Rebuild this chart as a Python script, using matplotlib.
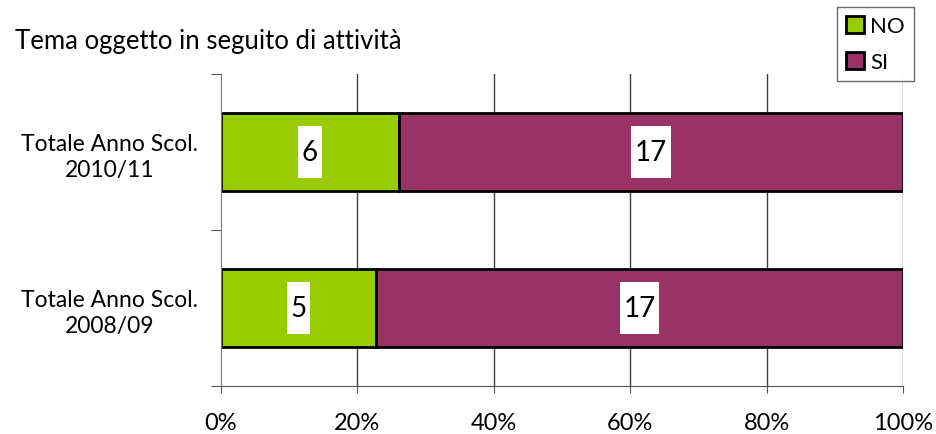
import matplotlib
matplotlib.use("Agg")
import matplotlib.pyplot as plt
import numpy as np
from matplotlib.path import Path

plt.rcParams['font.family'] = ['Lato', 'DejaVu Sans']

categories = ["Totale Anno Scol.\n2008/09", "Totale Anno Scol.\n2010/11"]
no_vals = [5, 6]
si_vals = [17, 17]
xtick_labels = ["0%", "20%", "40%", "60%", "80%", "100%"]
title = "Tema oggetto in seguito di attività"

c_no = "#99CC00"
c_si = "#993366"


def tall_box(x0, y0, width, height, mutation_size):
    px, py = 3.5, 13
    x0, y0 = x0 - px, y0 - py
    x1, y1 = x0 + width + 2 * px, y0 + height + 2 * py
    return Path([(x0, y0), (x1, y0), (x1, y1), (x0, y1), (x0, y0)],
                [Path.MOVETO, Path.LINETO, Path.LINETO, Path.LINETO, Path.CLOSEPOLY])


fig = plt.figure(figsize=(9.37, 4.35), dpi=100)
ax = fig.add_axes([221/937, 1 - 387/435, (903-221)/937, (387-75)/435])

no = np.array(no_vals, float)
si = np.array(si_vals, float)
tot = no + si
pno = no / tot * 100
psi = si / tot * 100
y = np.arange(len(categories))

for xv in [20, 40, 60, 80, 100]:
    ax.axvline(xv, color="#404040", lw=1, zorder=0)

ax.barh(y, pno, height=0.5, color=c_no, edgecolor="black", lw=2, label="NO", zorder=2)
ax.barh(y, psi, left=pno, height=0.5, color=c_si, edgecolor="black", lw=2, label="SI", zorder=2)

for i in range(len(categories)):
    for xc, v in [(pno[i] / 2, no_vals[i]), (pno[i] + psi[i] / 2, si_vals[i])]:
        t = ax.text(xc, y[i], str(v), ha="center", va="center", fontsize=20, zorder=3)
        t.set_bbox(dict(facecolor="white", edgecolor="none", boxstyle=tall_box))

ax.set_xlim(0, 100)
ax.set_ylim(-0.5, 1.5)
ax.set_xticks([0, 20, 40, 60, 80, 100])
ax.set_xticklabels(xtick_labels, fontsize=17)
ax.set_yticks([-0.5, 0.5, 1.5])
ax.set_yticklabels([])
ax.set_yticks(y, minor=True)
ax.set_yticklabels(categories, minor=True, fontsize=16.5)
ax.tick_params(axis="y", which="minor", length=0, pad=80)
ax.tick_params(axis="y", which="major", length=7, color="#555555")
ax.tick_params(axis="x", length=5, color="#555555", pad=14)
for lbl in ax.get_yticklabels(minor=True):
    lbl.set_horizontalalignment("center")
    lbl.set_multialignment("center")
    lbl.set_linespacing(1.3)

for s in ["top", "right"]:
    ax.spines[s].set_visible(False)
ax.spines["left"].set_color("#777777")
ax.spines["bottom"].set_color("#555555")

fig.text(15/937, 1 - 42/435, title, fontsize=18.5, va="center", ha="left")

leg = fig.legend(loc="upper left", bbox_to_anchor=(837/937, 1 - 8/435), fontsize=16,
                 frameon=True, fancybox=False, edgecolor="#444444", handlelength=0.8,
                 handleheight=0.8, handletextpad=0.3, labelspacing=0.7, borderpad=0.4,
                 borderaxespad=0)
leg.get_frame().set_linewidth(1)

fig.savefig("out.png", dpi=100)
